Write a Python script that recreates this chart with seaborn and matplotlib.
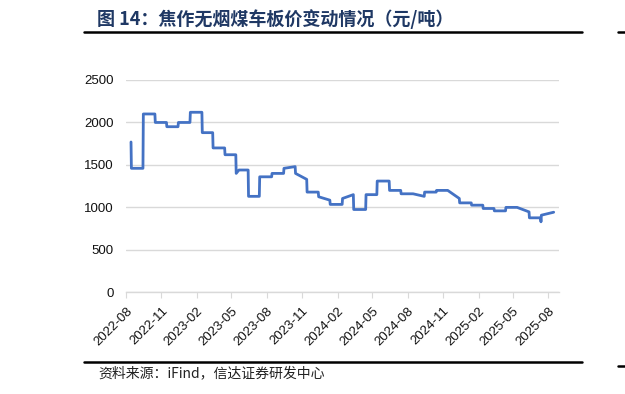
import pandas as pd
import matplotlib.pyplot as plt
from matplotlib.lines import Line2D
import seaborn as sns

# 焦作无烟煤车板价 (元/吨)
dates = ['2022-08-14', '2022-08-15', '2022-09-14', '2022-09-15', '2022-10-15', '2022-10-16',
         '2022-11-14', '2022-11-15', '2022-12-14', '2022-12-15', '2023-01-14', '2023-01-15',
         '2023-02-14', '2023-02-15', '2023-03-14', '2023-03-15', '2023-04-14', '2023-04-15',
         '2023-05-13', '2023-05-14', '2023-05-21', '2023-06-14', '2023-06-15', '2023-07-13',
         '2023-07-14', '2023-08-14', '2023-08-15', '2023-09-14', '2023-09-15', '2023-10-14',
         '2023-10-15', '2023-11-13', '2023-11-14', '2023-12-13', '2023-12-14', '2024-01-12',
         '2024-01-13', '2024-02-13', '2024-02-14', '2024-03-13', '2024-03-14', '2024-04-14',
         '2024-04-15', '2024-05-13', '2024-05-14', '2024-06-14', '2024-06-15', '2024-07-14',
         '2024-07-15', '2024-08-15', '2024-09-13', '2024-09-14', '2024-10-14', '2024-10-15',
         '2024-11-13', '2024-12-13', '2024-12-14', '2025-01-13', '2025-01-14', '2025-02-12',
         '2025-02-13', '2025-03-13', '2025-03-14', '2025-04-12', '2025-04-13', '2025-05-12',
         '2025-06-12', '2025-06-13', '2025-07-12', '2025-07-13', '2025-07-14', '2025-08-15']
prices = [1770, 1460, 1460, 2100, 2100, 2000,
          2000, 1950, 1950, 2000, 2000, 2120,
          2120, 1880, 1880, 1700, 1700, 1620,
          1620, 1400, 1440, 1440, 1130, 1130,
          1360, 1360, 1400, 1400, 1460, 1480,
          1400, 1330, 1180, 1180, 1125, 1085,
          1035, 1035, 1105, 1150, 975, 975,
          1150, 1150, 1310, 1310, 1200, 1200,
          1160, 1160, 1130, 1180, 1180, 1200,
          1200, 1105, 1053, 1053, 1026, 1026,
          987, 987, 959, 959, 1000, 1000,
          947, 877, 877, 830, 908, 943]

tick_dates = pd.date_range('2022-08-01', '2025-08-01', freq='3MS')
tick_labels = [d.strftime('%Y-%m') for d in tick_dates]
y_ticks = [0, 500, 1000, 1500, 2000, 2500]

title = '图 14：焦作无烟煤车板价变动情况（元/吨）'
source = '资料来源：iFind，信达证券研发中心'

df = pd.DataFrame({'date': pd.to_datetime(dates), 'price': prices})

sns.set_style('white')
plt.rcParams['font.family'] = ['Liberation Sans', 'Noto Sans CJK SC', 'DejaVu Sans']

W, H = 625, 394
fig = plt.figure(figsize=(6.25, 3.94), dpi=100)
ax = fig.add_axes([126 / W, 1 - 292.3 / H, (558.7 - 126) / W, (292.3 - 80) / H])

sns.lineplot(data=df, x='date', y='price', ax=ax, color='#4472C4', linewidth=2.0)

ax.set_ylim(0, 2500)
ax.set_yticks(y_ticks)
ax.set_xlim(pd.Timestamp('2022-08-01'), pd.Timestamp('2025-08-28'))
ax.set_xticks(tick_dates)
ax.set_xticklabels(tick_labels, rotation=45, ha='right', rotation_mode='anchor')
ax.set_xlabel('')
ax.set_ylabel('')

ax.grid(axis='y', color='#d9d9d9', linewidth=1)
ax.set_axisbelow(True)
for side in ['top', 'right', 'left']:
    ax.spines[side].set_visible(False)
ax.spines['bottom'].set_color('#d9d9d9')
ax.spines['bottom'].set_linewidth(1)
ax.tick_params(axis='x', bottom=True, length=4, color='#d9d9d9', labelsize=9.5, pad=5,
               labelcolor='#111111')
ax.tick_params(axis='y', length=0, pad=9, labelsize=9.5, labelcolor='#111111')

# title and source with the report's rules
fig.text(97 / W, 1 - 19 / H, title, fontsize=13, fontweight='bold', color='#1f3864',
         va='center', family=['Noto Sans CJK SC', 'DejaVu Sans'])
fig.add_artist(Line2D([84 / W, 582 / W], [1 - 32 / H] * 2, color='black', linewidth=1.8))
fig.add_artist(Line2D([618 / W, 1], [1 - 32 / H] * 2, color='black', linewidth=1.8))
fig.add_artist(Line2D([84 / W, 582 / W], [1 - 362 / H] * 2, color='black', linewidth=1.8))
fig.add_artist(Line2D([618 / W, 1], [1 - 365.5 / H] * 2, color='black', linewidth=1.8))
fig.text(98 / W, 1 - 373 / H, source, fontsize=10, style='italic', color='#222222',
         va='center', family=['Noto Sans CJK SC', 'DejaVu Sans'])

fig.savefig('out.png', dpi=100)
